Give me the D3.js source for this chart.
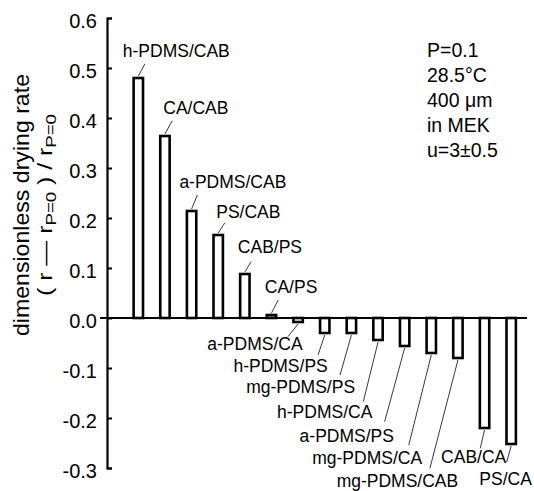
<!DOCTYPE html>
<html>
<head>
<meta charset="utf-8">
<script src="https://cdn.jsdelivr.net/npm/d3@7"></script>
<style>
  body { margin: 0; background: #fff; }
  svg text { font-family: "Liberation Sans", Arial, sans-serif; fill: #000; }
</style>
</head>
<body>
<div id="chart"></div>
<script>
var pairs = ["h-PDMS/CAB", "CA/CAB", "a-PDMS/CAB", "PS/CAB", "CAB/PS", "CA/PS",
  "a-PDMS/CA", "h-PDMS/PS", "mg-PDMS/PS", "h-PDMS/CA", "a-PDMS/PS",
  "mg-PDMS/CA", "mg-PDMS/CAB", "CAB/CA", "PS/CA"];
var rates = [0.48, 0.364, 0.214, 0.166, 0.088, 0.006,
  -0.008, -0.03, -0.03, -0.044, -0.056, -0.07, -0.08, -0.22, -0.252];
var yTicks = [-0.3, -0.2, -0.1, 0.0, 0.1, 0.2, 0.3, 0.4, 0.5, 0.6];
var conditions = ["P=0.1", "28.5°C", "400 μm", "in MEK", "u=3±0.5"];

// label placement in px: [leader dx, leader dy] from bar end, [text dx, text dy] from leader end
var labelLayout = [
  [6.5, -14, -22, -7], [7.3, -15.3, -9, -6.7], [5.8, -16, -18, -7],
  [6.7, -12.3, -8.7, -4.7], [6.3, -12.3, -13.3, -8.7], [6.7, -15, -13.4, -7],
  [-10.2, 14.7, 14.7, 13.3], [-6.7, 22, 9.7, 16.7], [-11.3, 42, 15, 18],
  [-14.7, 61.7, 9, 16.3], [-20, 75.7, 9.3, 20], [-22.5, 92, 13.3, 19],
  [-28, 110.3, 28.3, 18.4], [-4.3, 20.3, 26, 14.7], [-4.5, 18, 25.2, 23]
];

var width = 534, height = 491;

var svg = d3.select("#chart").append("svg")
  .attr("width", width)
  .attr("height", height);

var x = d3.scaleBand()
  .domain(pairs)
  .range([125, 524.5])
  .paddingInner(0.55)
  .paddingOuter(0.275);

var y = d3.scaleLinear()
  .domain([-0.3, 0.6])
  .range([468, 18]);

// bars
svg.append("g").selectAll("rect")
  .data(rates)
  .join("rect")
  .attr("x", function(d, i) { return x(pairs[i]) + 1.3; })
  .attr("width", x.bandwidth() - 2.6)
  .attr("y", function(d) { return y(Math.max(d, 0)); })
  .attr("height", function(d) { return Math.abs(y(d) - y(0)); })
  .attr("fill", "#fff")
  .attr("stroke", "#000")
  .attr("stroke-width", 2.6);

// zero line
svg.append("line")
  .attr("x1", 100).attr("x2", 527)
  .attr("y1", y(0)).attr("y2", y(0))
  .attr("stroke", "#000")
  .attr("stroke-width", 2.2);

// y axis
var yAxis = svg.append("g")
  .attr("transform", "translate(107,0)")
  .call(d3.axisLeft(y)
    .tickValues(yTicks)
    .tickSize(-5)
    .tickPadding(10)
    .tickFormat(function(d) { return d.toFixed(1); }));
yAxis.select(".domain").attr("stroke-width", 2.2);
yAxis.selectAll(".tick line").attr("stroke-width", 2);
yAxis.selectAll(".tick text")
  .attr("font-size", 20)
  .attr("dy", "0.45em");

// labels with leader lines
var lab = svg.append("g").selectAll("g")
  .data(rates)
  .join("g");

lab.append("line")
  .attr("x1", function(d, i) { return x(pairs[i]) + x.bandwidth() / 2; })
  .attr("y1", function(d) { return y(d) + (d >= 0 ? -2 : 2); })
  .attr("x2", function(d, i) { return x(pairs[i]) + x.bandwidth() / 2 + labelLayout[i][0]; })
  .attr("y2", function(d, i) { return y(d) + labelLayout[i][1]; })
  .attr("stroke", "#222")
  .attr("stroke-width", 0.9);

lab.append("text")
  .attr("x", function(d, i) { return x(pairs[i]) + x.bandwidth() / 2 + labelLayout[i][0] + labelLayout[i][2]; })
  .attr("y", function(d, i) { return y(d) + labelLayout[i][1] + labelLayout[i][3]; })
  .attr("text-anchor", function(d) { return d >= 0 ? "start" : "end"; })
  .attr("font-size", 17.5)
  .text(function(d, i) { return pairs[i]; });

// conditions text
svg.append("g").selectAll("text")
  .data(conditions)
  .join("text")
  .attr("x", 427)
  .attr("y", function(d, i) { return 57 + i * 25; })
  .attr("font-size", 19.5)
  .text(function(d) { return d; });

// y axis title
var title = svg.append("g")
  .attr("transform", "translate(0,205) rotate(-90)");
title.append("text")
  .attr("x", 0).attr("y", 29)
  .attr("text-anchor", "middle")
  .attr("font-size", 21.5)
  .attr("textLength", 262)
  .attr("lengthAdjust", "spacingAndGlyphs")
  .text("dimensionless drying rate");
var t2 = title.append("text")
  .attr("x", 0).attr("y", 52)
  .attr("text-anchor", "middle")
  .attr("font-size", 20)
  .attr("textLength", 182)
  .attr("lengthAdjust", "spacingAndGlyphs");
t2.append("tspan").text("( r — r");
t2.append("tspan").attr("font-size", 15).attr("dy", 4).text("P=0");
t2.append("tspan").attr("dy", -4).text(" ) / r");
t2.append("tspan").attr("font-size", 15).attr("dy", 4).text("P=0");
</script>
</body>
</html>
